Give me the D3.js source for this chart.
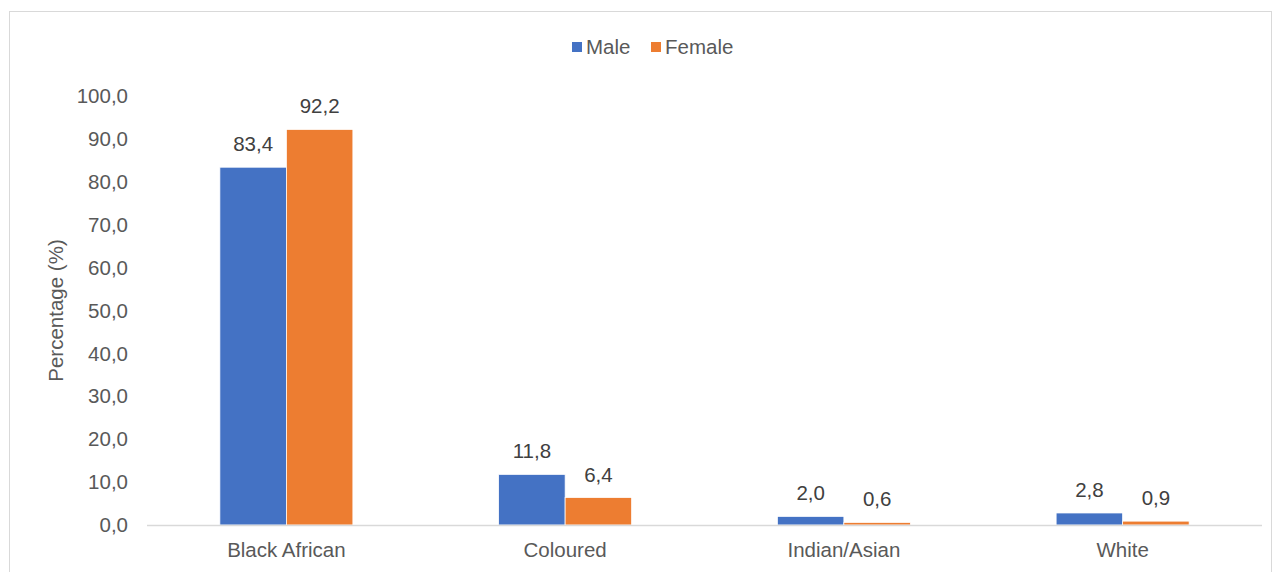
<!DOCTYPE html>
<html>
<head>
<meta charset="utf-8">
<script src="https://cdn.jsdelivr.net/npm/d3@7"></script>
<style>
body { margin: 0; background: #fff; }
svg text { font-family: "Liberation Sans", Arial, sans-serif; }
</style>
</head>
<body>
<div id="chart"></div>
<script>
var categories = ["Black African", "Coloured", "Indian/Asian", "White"];
var series = ["Male", "Female"];
var male = [83.4, 11.8, 2.0, 2.8];
var female = [92.2, 6.4, 0.6, 0.9];
var yTicks = [0, 10, 20, 30, 40, 50, 60, 70, 80, 90, 100];
var colors = ["#4472c4", "#ed7d31"];

var width = 1279, height = 572;
var plotLeft = 147, plotRight = 1262, plotTop = 96, plotBottom = 525;
var fontSize = 20.5;

var svg = d3.select("#chart").append("svg")
	.attr("width", width)
	.attr("height", height);

// chart frame
svg.append("rect")
	.attr("x", 9.5).attr("y", 11.5)
	.attr("width", 1262).attr("height", 580)
	.attr("fill", "white")
	.attr("stroke", "#d9d9d9")
	.attr("stroke-width", 1);

var x0 = d3.scaleBand().domain(categories).range([plotLeft, plotRight]);
var x1 = d3.scaleBand().domain(series)
	.range([x0.bandwidth() / 2 - 66.5, x0.bandwidth() / 2 + 66.5]);
var y = d3.scaleLinear().domain([0, 100]).range([plotBottom, plotTop]);

var fmt = function(v) { return d3.format(".1f")(v).replace(".", ","); };

// y tick labels
svg.append("g").selectAll("text")
	.data(yTicks)
	.enter().append("text")
	.attr("x", 128)
	.attr("y", function(d) { return y(d); })
	.attr("dy", "0.35em")
	.attr("text-anchor", "end")
	.attr("font-size", fontSize)
	.attr("fill", "#595959")
	.text(fmt);

// axis title
svg.append("text")
	.attr("transform", "translate(63," + ((plotTop + plotBottom) / 2) + ") rotate(-90)")
	.attr("text-anchor", "middle")
	.attr("font-size", fontSize)
	.attr("fill", "#595959")
	.text("Percentage (%)");

var data = categories.map(function(c, i) {
	return { cat: c, values: [male[i], female[i]] };
});

var groups = svg.append("g").selectAll("g")
	.data(data)
	.enter().append("g")
	.attr("transform", function(d) { return "translate(" + x0(d.cat) + ",0)"; });

groups.selectAll("rect")
	.data(function(d) { return d.values.map(function(v, j) { return { s: series[j], v: v, j: j }; }); })
	.enter().append("rect")
	.attr("x", function(d) { return x1(d.s); })
	.attr("y", function(d) { return y(d.v); })
	.attr("width", x1.bandwidth())
	.attr("height", function(d) { return plotBottom - y(d.v); })
	.attr("fill", function(d) { return colors[d.j]; })
	.attr("stroke", "white")
	.attr("stroke-width", 0.75);

groups.selectAll("text.val")
	.data(function(d) { return d.values.map(function(v, j) { return { s: series[j], v: v }; }); })
	.enter().append("text")
	.attr("class", "val")
	.attr("x", function(d) { return x1(d.s) + x1.bandwidth() / 2; })
	.attr("y", function(d) { return y(d.v) - 16; })
	.attr("text-anchor", "middle")
	.attr("font-size", fontSize)
	.attr("fill", "#404040")
	.text(function(d) { return fmt(d.v); });

// baseline
svg.append("line")
	.attr("x1", plotLeft).attr("x2", plotRight)
	.attr("y1", plotBottom + 0.5).attr("y2", plotBottom + 0.5)
	.attr("stroke", "#d9d9d9")
	.attr("stroke-width", 1.5);

// category labels
svg.append("g").selectAll("text")
	.data(categories)
	.enter().append("text")
	.attr("x", function(d) { return x0(d) + x0.bandwidth() / 2; })
	.attr("y", 557)
	.attr("text-anchor", "middle")
	.attr("font-size", fontSize)
	.attr("fill", "#595959")
	.text(function(d) { return d; });

// legend
var legendX = [572, 651];
var legend = svg.append("g").selectAll("g")
	.data(series)
	.enter().append("g")
	.attr("transform", function(d, i) { return "translate(" + legendX[i] + ",0)"; });
legend.append("rect")
	.attr("x", 0).attr("y", 42)
	.attr("width", 10).attr("height", 10)
	.attr("fill", function(d, i) { return colors[i]; });
legend.append("text")
	.attr("x", 14).attr("y", 47)
	.attr("dy", "0.35em")
	.attr("font-size", fontSize)
	.attr("fill", "#595959")
	.text(function(d) { return d; });
</script>
</body>
</html>
